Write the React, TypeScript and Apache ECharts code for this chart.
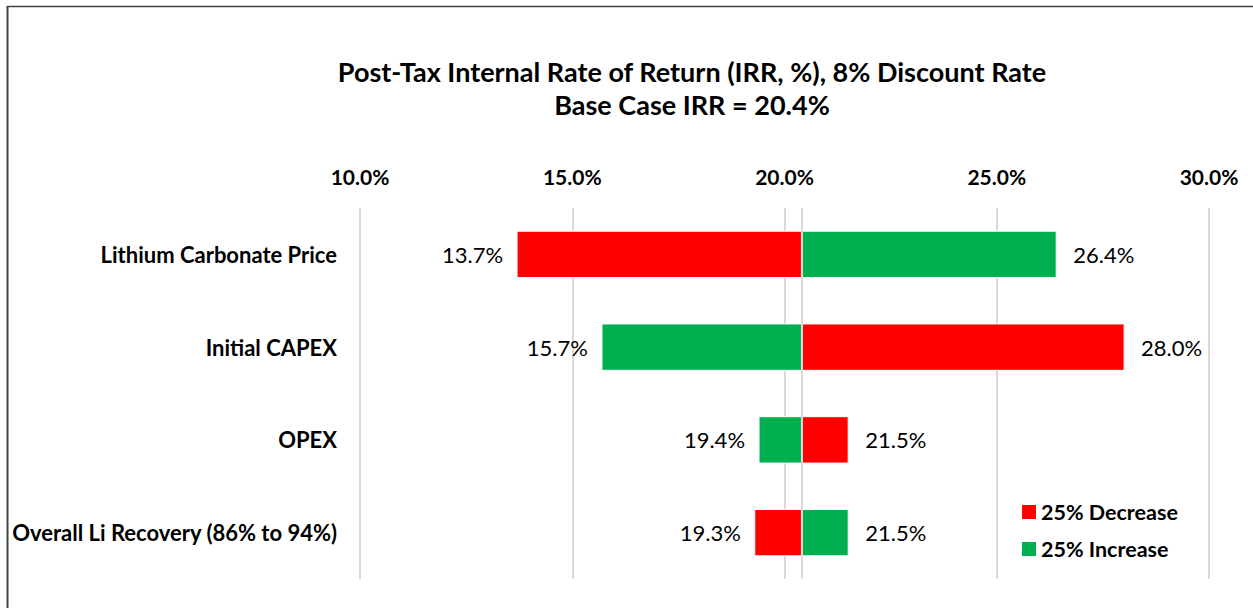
import React, { useEffect, useRef } from "react";
import * as echarts from "echarts";

const categories = [
  "Lithium Carbonate Price",
  "Initial CAPEX",
  "OPEX",
  "Overall Li Recovery (86% to 94%)",
];
const decreaseValues = [13.7, 28.0, 21.5, 19.3];
const increaseValues = [26.4, 15.7, 19.4, 21.5];
const baseIRR = 20.4;
const xMin = 10;
const xMax = 30;
const xStep = 5;
const seriesNames = ["25% Decrease", "25% Increase"];
const seriesColors = ["#ff0000", "#00b050"];

const FONT = "Lato, 'Open Sans', sans-serif";

export default function App() {
  const ref = useRef<HTMLDivElement>(null);
  useEffect(() => {
    if (!ref.current) return;
    const chart = echarts.init(ref.current, undefined, { renderer: "svg" });
    const renderItem = (params: any, api: any) => {
      const v = api.value(0);
      const cat = api.value(1);
      const s = api.coord([baseIRR, cat]);
      const e = api.coord([v, cat]);
      const h = api.size([0, 1])[1] * 0.5;
      const x = Math.min(s[0], e[0]);
      const w = Math.abs(e[0] - s[0]);
      const left = v < baseIRR;
      return {
        type: "group",
        children: [
          {
            type: "rect",
            shape: { x, y: s[1] - h / 2, width: w, height: h },
            style: { fill: api.visual("color"), stroke: "#ffffff", lineWidth: 1 },
          },
          {
            type: "text",
            style: {
              text: v.toFixed(1) + "%",
              x: left ? e[0] - 14 : e[0] + 17,
              y: s[1],
              align: left ? "right" : "left",
              verticalAlign: "middle",
              fontFamily: FONT,
              fontSize: 22,
              fill: "#000000",
            },
          },
        ],
      };
    };
    const mkSeries = (name: string, vals: number[], color: string, withBase: boolean) => ({
      type: "custom",
      name,
      renderItem,
      itemStyle: { color },
      encode: { x: 0, y: 1 },
      data: vals.map((v, i) => [v, i]),
      z: 3,
      markLine: withBase
        ? {
            silent: true,
            symbol: "none",
            label: { show: false },
            lineStyle: { color: "#d9d9d9", width: 2, type: "solid" },
            data: [{ xAxis: baseIRR }],
          }
        : undefined,
    });
    chart.setOption({
      animation: false,
      backgroundColor: "#ffffff",
      title: {
        text: "Post-Tax Internal Rate of Return (IRR, %), 8% Discount Rate\nBase Case IRR = 20.4%",
        left: 687,
        top: 50,
        textAlign: "center",
        textStyle: {
          fontFamily: FONT,
          fontSize: 27,
          fontWeight: "bold",
          color: "#000000",
          lineHeight: 33,
        },
      },
      legend: {
        orient: "vertical",
        left: 1017,
        top: 496,
        itemWidth: 14,
        itemHeight: 14,
        itemGap: 15,
        icon: "rect",
        data: seriesNames,
        textStyle: { fontFamily: FONT, fontSize: 21.5, fontWeight: "bold", color: "#000000" },
      },
      grid: { left: 360, right: 44, top: 208, bottom: 29 },
      xAxis: {
        type: "value",
        position: "top",
        min: xMin,
        max: xMax,
        interval: xStep,
        axisLine: { show: false },
        axisTick: { show: false },
        splitLine: { show: true, lineStyle: { color: "#d9d9d9", width: 2 } },
        axisLabel: {
          formatter: (v: number) => v.toFixed(1) + "%",
          fontFamily: FONT,
          fontSize: 21,
          fontWeight: "bold",
          color: "#000000",
          margin: 21,
        },
      },
      yAxis: {
        type: "category",
        inverse: true,
        data: categories,
        axisLine: { show: false },
        axisTick: { show: false },
        splitLine: { show: false },
        axisLabel: {
          fontFamily: FONT,
          fontSize: 22,
          fontWeight: "bold",
          color: "#000000",
          margin: 23,
        },
      },
      graphic: [
        { type: "line", shape: { x1: 7, y1: 6.5, x2: 1253, y2: 6.5 }, style: { stroke: "#404040", lineWidth: 1.5 } },
        { type: "line", shape: { x1: 7.5, y1: 6, x2: 7.5, y2: 608 }, style: { stroke: "#404040", lineWidth: 2 } },
      ],
      series: [
        mkSeries(seriesNames[0], decreaseValues, seriesColors[0], true),
        mkSeries(seriesNames[1], increaseValues, seriesColors[1], false),
      ],
    });
    return () => chart.dispose();
  }, []);
  return <div ref={ref} style={{ position: "fixed", left: 0, top: 0, width: 1253, height: 608 }} />;
}
